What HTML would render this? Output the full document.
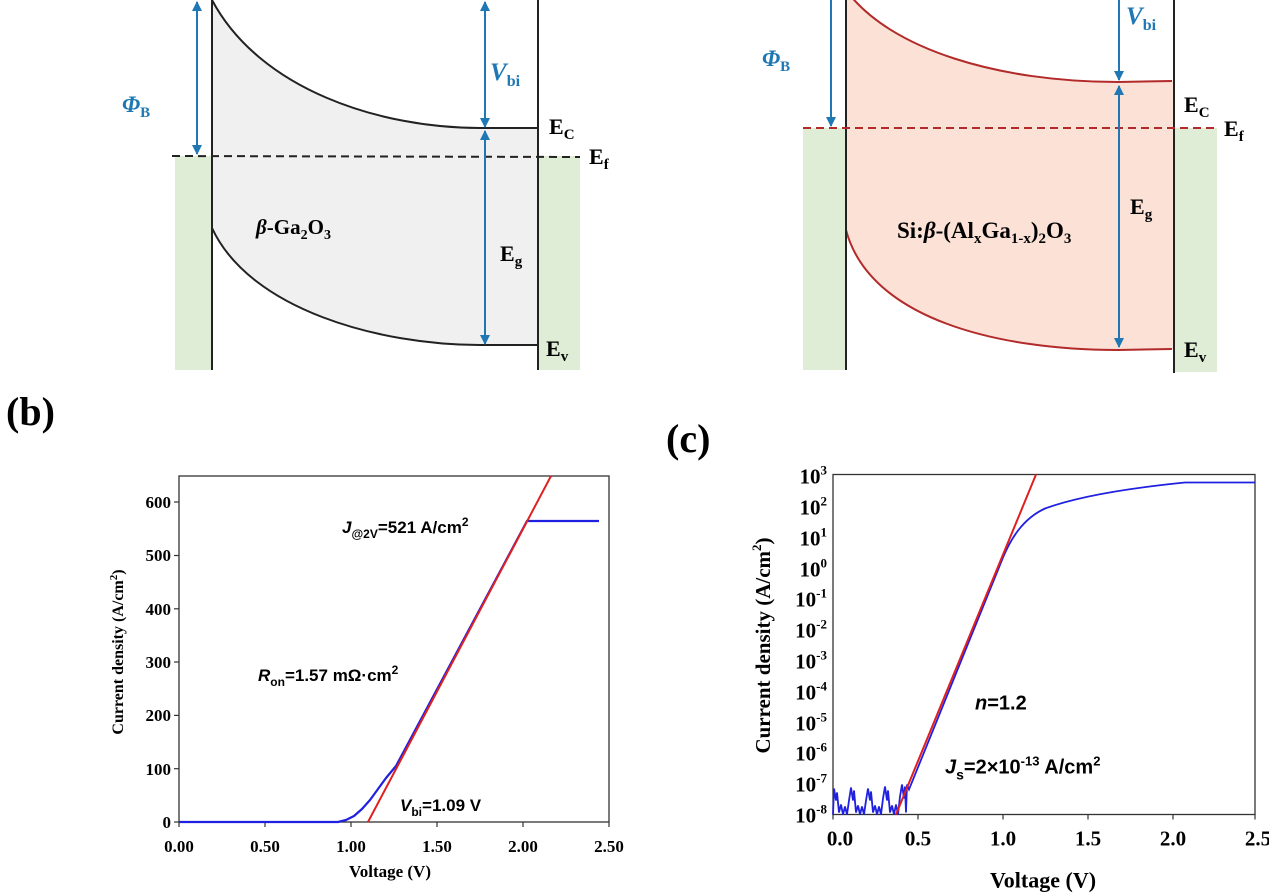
<!DOCTYPE html>
<html><head><meta charset="utf-8"><style>
body{margin:0;background:#fff;}
svg{display:block;}
.s{font-family:"Liberation Serif",serif;font-weight:bold;}
.a{font-family:"Liberation Sans",sans-serif;font-weight:bold;}
</style></head><body>
<svg width="1269" height="893" viewBox="0 0 1269 893" xmlns="http://www.w3.org/2000/svg">
<defs>
<marker id="ah" viewBox="0 0 10 10" refX="9" refY="5" markerWidth="5" markerHeight="5" orient="auto-start-reverse"><path d="M0,0 L10,5 L0,10 z" fill="#1f78b4"/></marker>
</defs>
<!-- Panel a left -->
<rect x="175" y="156" width="37" height="214" fill="#dfecd6"/>
<rect x="538" y="156" width="42" height="214" fill="#dfecd6"/>
<path d="M212,0 C260,90 380,128 480,128 L538,128 L538,345 L480,345 C380,345 250,310 212,228 Z" fill="#f0f0f0"/>
<path d="M212,0 C260,90 380,128 480,128 L538,128" fill="none" stroke="#222" stroke-width="2"/>
<path d="M212,228 C250,310 380,345 480,345 L538,345" fill="none" stroke="#222" stroke-width="2"/>
<line x1="212" y1="0" x2="212" y2="370" stroke="#222" stroke-width="2"/>
<line x1="538" y1="0" x2="538" y2="370" stroke="#222" stroke-width="2"/>
<line x1="172" y1="156" x2="580" y2="157" stroke="#222" stroke-width="2" stroke-dasharray="8,5"/>
<line x1="197" y1="2" x2="197" y2="154" stroke="#1f78b4" stroke-width="2" marker-start="url(#ah)" marker-end="url(#ah)"/>
<line x1="485" y1="2" x2="485" y2="127" stroke="#1f78b4" stroke-width="2" marker-start="url(#ah)" marker-end="url(#ah)"/>
<line x1="485" y1="131" x2="485" y2="344" stroke="#1f78b4" stroke-width="2" marker-start="url(#ah)" marker-end="url(#ah)"/>
<text x="122" y="112" class="s" font-size="23" fill="#1f78b4" font-style="italic">Φ<tspan font-size="15" dy="5" font-style="normal">B</tspan></text>
<text x="490" y="80" class="s" font-size="25" fill="#1f78b4" font-style="italic">V<tspan font-size="16" dy="6" font-style="normal">bi</tspan></text>
<text x="549" y="134" class="s" font-size="22">E<tspan font-size="15" dy="5">C</tspan></text>
<text x="589" y="164" class="s" font-size="22">E<tspan font-size="15" dy="5">f</tspan></text>
<text x="256" y="234" class="s" font-size="21"><tspan font-style="italic">β</tspan>-Ga<tspan font-size="14" dy="5">2</tspan><tspan dy="-5">O</tspan><tspan font-size="14" dy="5">3</tspan></text>
<text x="500" y="261" class="s" font-size="22">E<tspan font-size="15" dy="5">g</tspan></text>
<text x="546" y="356" class="s" font-size="22">E<tspan font-size="15" dy="5">v</tspan></text>

<!-- Panel a right -->
<rect x="803" y="128" width="43" height="242" fill="#dfecd6"/>
<rect x="1174" y="128" width="43" height="244" fill="#dfecd6"/>
<path d="M846,-10 C890,50 1000,82 1118,82 L1174,81 L1174,349 L1118,350 C1000,350 870,320 846,230 Z" fill="#fbe1d6"/>
<path d="M846,-10 C890,50 1000,82 1118,82 L1172,81" fill="none" stroke="#b22a2a" stroke-width="2"/>
<path d="M846,230 C870,320 1000,350 1118,350 L1172,349" fill="none" stroke="#b22a2a" stroke-width="2"/>
<line x1="846" y1="0" x2="846" y2="370" stroke="#222" stroke-width="2"/>
<line x1="1174" y1="0" x2="1174" y2="373" stroke="#222" stroke-width="2"/>
<line x1="803" y1="128" x2="1217" y2="128" stroke="#b22a2a" stroke-width="2" stroke-dasharray="8,5"/>
<line x1="831" y1="0" x2="831" y2="126" stroke="#1f78b4" stroke-width="2" marker-end="url(#ah)"/>
<line x1="1119" y1="0" x2="1119" y2="80" stroke="#1f78b4" stroke-width="2" marker-end="url(#ah)"/>
<line x1="1119" y1="86" x2="1119" y2="347" stroke="#1f78b4" stroke-width="2" marker-start="url(#ah)" marker-end="url(#ah)"/>
<text x="762" y="66" class="s" font-size="23" fill="#1f78b4" font-style="italic">Φ<tspan font-size="15" dy="5" font-style="normal">B</tspan></text>
<text x="1126" y="24" class="s" font-size="25" fill="#1f78b4" font-style="italic">V<tspan font-size="16" dy="6" font-style="normal">bi</tspan></text>
<text x="1184" y="112" class="s" font-size="22">E<tspan font-size="15" dy="5">C</tspan></text>
<text x="1224" y="136" class="s" font-size="22">E<tspan font-size="15" dy="5">f</tspan></text>
<text x="897" y="238" class="s" font-size="23">Si:<tspan font-style="italic">β</tspan>-(Al<tspan font-size="15" dy="5">x</tspan><tspan dy="-5">Ga</tspan><tspan font-size="15" dy="5">1-x</tspan><tspan dy="-5">)</tspan><tspan font-size="15" dy="5">2</tspan><tspan dy="-5">O</tspan><tspan font-size="15" dy="5">3</tspan></text>
<text x="1130" y="214" class="s" font-size="22">E<tspan font-size="15" dy="5">g</tspan></text>
<text x="1184" y="357" class="s" font-size="22">E<tspan font-size="15" dy="5">v</tspan></text>

<!-- labels b, c -->
<text x="6" y="425" class="s" font-size="40">(b)</text>
<text x="666" y="452" class="s" font-size="40">(c)</text>

<!-- Plot b -->
<g>
<rect x="179" y="476" width="430" height="346" fill="none" stroke="#333" stroke-width="1.3"/>
<g stroke="#333" stroke-width="1.2">
<line x1="179" y1="822" x2="179" y2="827"/><line x1="265" y1="822" x2="265" y2="827"/><line x1="351" y1="822" x2="351" y2="827"/><line x1="437" y1="822" x2="437" y2="827"/><line x1="523" y1="822" x2="523" y2="827"/><line x1="609" y1="822" x2="609" y2="827"/>
<line x1="174" y1="822" x2="179" y2="822"/><line x1="174" y1="768.7" x2="179" y2="768.7"/><line x1="174" y1="715.4" x2="179" y2="715.4"/><line x1="174" y1="662" x2="179" y2="662"/><line x1="174" y1="608.8" x2="179" y2="608.8"/><line x1="174" y1="555.5" x2="179" y2="555.5"/><line x1="174" y1="502" x2="179" y2="502"/>
</g>
<g class="s" font-size="17" text-anchor="end">
<text x="171" y="828">0</text><text x="171" y="775">100</text><text x="171" y="721">200</text><text x="171" y="668">300</text><text x="171" y="615">400</text><text x="171" y="561">500</text><text x="171" y="508">600</text>
</g>
<g class="s" font-size="17" text-anchor="middle">
<text x="179" y="852">0.00</text><text x="265" y="852">0.50</text><text x="351" y="852">1.00</text><text x="437" y="852">1.50</text><text x="523" y="852">2.00</text><text x="609" y="852">2.50</text>
</g>
<text x="390" y="877" class="s" font-size="17" text-anchor="middle">Voltage (V)</text>
<text transform="translate(123,652) rotate(-90)" class="s" font-size="16" text-anchor="middle">Current density (A/cm<tspan font-size="11" dy="-6">2</tspan><tspan dy="6">)</tspan></text>
<polyline points="179,822 338,822 346,820 354,816 362,809 370,800 378,789 386,778 396,766 527,521 599,521" fill="none" stroke="#2020e0" stroke-width="2.2" stroke-linejoin="round"/>
<line x1="368" y1="822" x2="551" y2="476" stroke="#e02020" stroke-width="2"/>
<text x="342" y="533" class="a" font-size="17"><tspan font-style="italic">J</tspan><tspan font-size="12" dy="5">@2V</tspan><tspan dy="-5">=521 A/cm</tspan><tspan font-size="12" dy="-7">2</tspan></text>
<text x="258" y="681" class="a" font-size="17"><tspan font-style="italic">R</tspan><tspan font-size="12" dy="5">on</tspan><tspan dy="-5">=1.57 mΩ·cm</tspan><tspan font-size="12" dy="-7">2</tspan></text>
<text x="400" y="811" class="a" font-size="17"><tspan font-style="italic">V</tspan><tspan font-size="12" dy="5">bi</tspan><tspan dy="-5">=1.09 V</tspan></text>
</g>

<!-- Plot c -->
<g transform="translate(5,0.5)">
<rect x="828" y="474" width="422" height="340" fill="none" stroke="#333" stroke-width="1.3"/>
<g stroke="#333" stroke-width="1.2">
<line x1="828" y1="814" x2="828" y2="819"/><line x1="913" y1="814" x2="913" y2="819"/><line x1="998" y1="814" x2="998" y2="819"/><line x1="1083" y1="814" x2="1083" y2="819"/><line x1="1168" y1="814" x2="1168" y2="819"/><line x1="1250" y1="814" x2="1250" y2="819"/>
</g>
<g class="s" font-size="21" text-anchor="end">
<text x="822" y="483">10<tspan font-size="13" dy="-9">3</tspan></text>
<text x="822" y="514">10<tspan font-size="13" dy="-9">2</tspan></text>
<text x="822" y="545">10<tspan font-size="13" dy="-9">1</tspan></text>
<text x="822" y="576">10<tspan font-size="13" dy="-9">0</tspan></text>
<text x="822" y="606">10<tspan font-size="13" dy="-9">-1</tspan></text>
<text x="822" y="637">10<tspan font-size="13" dy="-9">-2</tspan></text>
<text x="822" y="668">10<tspan font-size="13" dy="-9">-3</tspan></text>
<text x="822" y="699">10<tspan font-size="13" dy="-9">-4</tspan></text>
<text x="822" y="730">10<tspan font-size="13" dy="-9">-5</tspan></text>
<text x="822" y="760">10<tspan font-size="13" dy="-9">-6</tspan></text>
<text x="822" y="791">10<tspan font-size="13" dy="-9">-7</tspan></text>
<text x="822" y="822">10<tspan font-size="13" dy="-9">-8</tspan></text>
</g>
<g class="s" font-size="21" text-anchor="middle">
<text x="835" y="845">0.0</text><text x="913" y="845">0.5</text><text x="998" y="845">1.0</text><text x="1083" y="845">1.5</text><text x="1168" y="845">2.0</text><text x="1253" y="845">2.5</text>
</g>
<text x="1038" y="887" class="s" font-size="22" text-anchor="middle">Voltage (V)</text>
<text transform="translate(765,645) rotate(-90)" class="s" font-size="21" text-anchor="middle">Current density (A/cm<tspan font-size="13" dy="-9">2</tspan><tspan dy="9">)</tspan></text>
<polyline points="828,814 829,788 831,800 832,792 834,812 836,804 838,814 840,806 842,814 844,800 846,787 848,800 849,790 851,812 853,805 855,814 857,806 859,814 861,800 863,788 865,800 866,791 868,812 870,805 872,814 874,806 876,814 878,798 880,786 882,800 883,790 885,812 887,805 889,814 891,804 893,814 895,796 897,784 899,798 900,786 901,812 902,784 904,789 998,557" fill="none" stroke="#2020e0" stroke-width="1.8"/>
<path d="M998,557 C1006,538 1018,518 1040,508 C1070,497 1120,488 1180,482 L1250,482" fill="none" stroke="#2020e0" stroke-width="1.8"/>
<line x1="891" y1="814" x2="1031" y2="474" stroke="#e02020" stroke-width="2"/>
<text x="970" y="709" class="a" font-size="20"><tspan font-style="italic">n</tspan>=1.2</text>
<text x="940" y="773" class="a" font-size="20"><tspan font-style="italic">J</tspan><tspan font-size="14" dy="6">s</tspan><tspan dy="-6">=2×10</tspan><tspan font-size="13" dy="-8">-13</tspan><tspan dy="8"> A/cm</tspan><tspan font-size="13" dy="-8">2</tspan></text>
</g>
</svg>
</body></html>
